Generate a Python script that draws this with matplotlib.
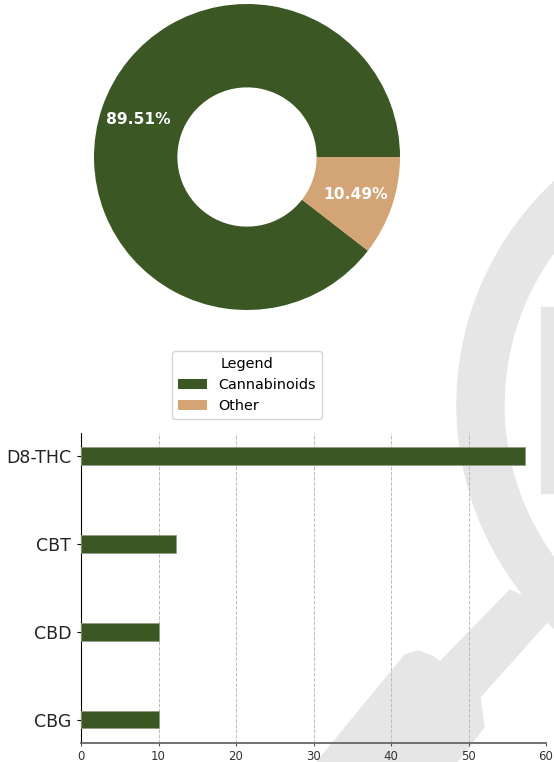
import matplotlib
matplotlib.use("Agg")
import matplotlib.pyplot as plt
from matplotlib.patches import Patch, Wedge, Polygon, Rectangle

# ---- data ----
pie_labels = ["Cannabinoids", "Other"]
pie_values = [89.51, 10.49]
pie_colors = ["#3a5724", "#d3a476"]

bar_labels = ["CBG", "CBD", "CBT", "D8-THC"]
bar_values = [10.0, 10.0, 12.3, 57.3]
bar_color = "#3a5724"
x_ticks = [0, 10, 20, 30, 40, 50, 60]

W, H = 554, 762
fig = plt.figure(figsize=(W / 100, H / 100), dpi=100)

# ---- watermark (background decoration) ----
wm = "#e6e6e6"
def px(x, y):
    return (x / 100, (H - y) / 100)
tr = fig.dpi_scale_trans
fig.patches.append(Wedge(px(762, 405), 3.05, 0, 360, width=0.47, color=wm,
                         transform=tr, zorder=-5))
hand = [(317, 762), (405, 655), (418, 651), (432, 656), (440, 662), (510, 590),
        (556, 612), (480, 697), (484, 727), (457, 762)]
fig.patches.append(Polygon([px(a, b) for a, b in hand], closed=True, color=wm,
                           transform=tr, zorder=-5))
fig.patches.append(Rectangle(px(541, 493), 0.20, 1.86, color=wm, transform=tr, zorder=-5))

# ---- donut ----
r_px = 153
cx, cy = 247, 157
lim = 1.1
side = 2 * lim * r_px
ax1 = fig.add_axes([(cx - side / 2) / W, (H - cy - side / 2) / H, side / W, side / H])
ax1.patch.set_alpha(0)
wedges, texts, autotexts = ax1.pie(
    pie_values, colors=pie_colors, startangle=0, counterclock=True,
    autopct="%1.2f%%", pctdistance=0.75,
    wedgeprops=dict(width=0.545, edgecolor="none"),
    textprops=dict(color="white", fontsize=11.2, fontweight="bold"))
ax1.set_xlim(-lim, lim)
ax1.set_ylim(-lim, lim)
ax1.set_aspect("equal")

handles = [Patch(facecolor=c, label=l) for c, l in zip(pie_colors, pie_labels)]
fig.legend(handles=handles, title="Legend", loc="upper center",
           bbox_to_anchor=(247 / W, 1 - 344 / H), fontsize=10.4, title_fontsize=10.4,
           frameon=True)

# ---- bars ----
ax2 = fig.add_axes([81 / W, (H - 742.5) / H, 465 / W, 309.5 / H])
ax2.patch.set_alpha(0)
ax2.barh(range(len(bar_labels)), bar_values, height=0.2, color=bar_color,
         edgecolor="#8f9c86", linewidth=0.6, zorder=3)
ax2.set_yticks(range(len(bar_labels)))
ax2.set_yticklabels(bar_labels, fontsize=12.5, color="#222222")
ax2.set_xticks(x_ticks)
ax2.tick_params(axis="x", labelsize=8.5, length=2.5, pad=3, labelcolor="#333333",
                color="#555555")
ax2.tick_params(axis="y", length=3, pad=4)
ax2.set_xlim(0, 60)
ax2.grid(axis="x", linestyle="--", color="#bbbbbb", linewidth=0.7, zorder=0)
ax2.spines["top"].set_visible(False)
ax2.spines["right"].set_visible(False)
ax2.spines["bottom"].set_color("#666666")
ax2.spines["bottom"].set_linewidth(1.3)

fig.savefig("out.png", dpi=100)
